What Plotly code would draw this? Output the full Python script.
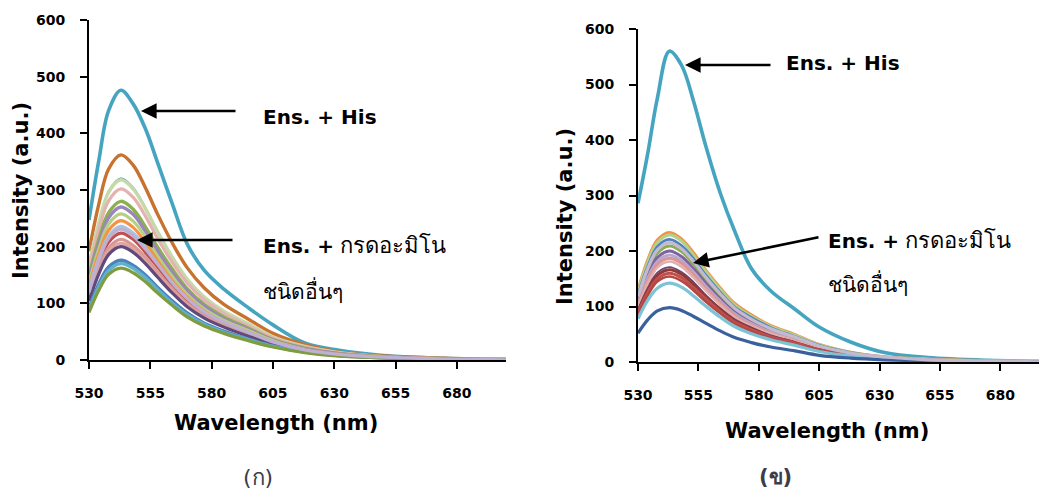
import plotly.graph_objects as go

# ---------------- data ----------------
wavelength = [530, 534, 538, 543, 548, 553, 558, 564, 570, 577, 585, 595, 605, 618, 632, 650, 675, 700]

# Panel (ก)
a_his = [247, 352, 440, 476, 452, 408, 348, 275, 205, 158, 125, 92, 62, 30, 17, 8, 3, 1]
a_orange = [192, 275, 337, 362, 344, 304, 257, 206, 163, 127, 98, 72, 47, 27, 14, 7, 3, 1]
a_teal_thin = [170, 244, 299, 321, 305, 270, 228, 183, 144, 112, 87, 64, 42, 24, 13, 6, 2, 1]
a_sage = [169, 242, 296, 318, 302, 267, 226, 181, 143, 111, 86, 64, 41, 24, 13, 6, 2, 1]
a_pink = [160, 230, 281, 302, 287, 254, 214, 172, 136, 106, 82, 60, 39, 23, 12, 6, 2, 1]
a_green = [148, 213, 260, 280, 266, 235, 199, 160, 126, 98, 76, 56, 36, 21, 11, 6, 2, 1]
a_purple = [143, 205, 251, 270, 257, 227, 192, 154, 122, 95, 73, 54, 35, 20, 11, 5, 2, 1]
a_lightgreen = [137, 196, 240, 258, 245, 217, 183, 147, 116, 90, 70, 52, 34, 19, 10, 5, 2, 1]
a_lightorange = [130, 187, 229, 246, 234, 207, 175, 140, 111, 86, 66, 49, 32, 18, 10, 5, 2, 0]
a_lightblue = [125, 179, 219, 236, 224, 198, 168, 135, 106, 83, 64, 47, 31, 18, 9, 5, 2, 0]
a_red = [116, 170, 208, 224, 213, 190, 164, 132, 105, 83, 65, 47, 31, 18, 10, 5, 2, 0]
a_rose = [111, 162, 198, 213, 202, 181, 155, 126, 100, 79, 62, 45, 30, 17, 10, 5, 2, 0]
a_salmon = [107, 157, 192, 206, 196, 175, 150, 122, 97, 76, 60, 43, 29, 16, 9, 5, 2, 0]
a_darkpurple = [104, 152, 186, 200, 190, 170, 146, 118, 94, 74, 58, 42, 28, 16, 9, 4, 2, 0]
a_blue = [92, 134, 164, 176, 167, 150, 128, 104, 83, 65, 51, 37, 25, 14, 8, 4, 1, 0]
a_cyan = [88, 129, 158, 170, 162, 145, 124, 100, 80, 63, 49, 36, 24, 14, 8, 4, 1, 0]
a_olive = [84, 123, 151, 162, 154, 138, 118, 96, 76, 60, 47, 34, 23, 13, 7, 4, 1, 0]
a_lavender = [120, 176, 215, 231, 219, 196, 169, 136, 109, 85, 67, 49, 32, 18, 10, 5, 2, 0]

# Panel (ข)
b_his = [286, 375, 475, 560, 535, 470, 390, 305, 236, 168, 128, 95, 63, 36, 17, 8, 3, 1]
b_orange = [128, 182, 219, 233, 221, 196, 165, 133, 105, 84, 65, 49, 31, 17, 9, 5, 2, 0]
b_lightgreen = [126, 179, 215, 229, 218, 192, 163, 131, 103, 82, 64, 48, 31, 17, 9, 5, 2, 0]
b_blue = [122, 172, 208, 221, 210, 186, 157, 126, 99, 80, 62, 46, 30, 17, 9, 4, 2, 0]
b_green = [115, 163, 196, 209, 199, 176, 148, 119, 94, 75, 59, 44, 28, 16, 8, 4, 1, 0]
b_purple = [110, 156, 188, 200, 190, 168, 142, 114, 90, 72, 56, 42, 27, 15, 8, 4, 1, 0]
b_lavender2 = [106, 151, 181, 193, 183, 162, 137, 110, 87, 69, 54, 41, 26, 14, 8, 4, 1, 0]
b_pink = [103, 146, 176, 187, 178, 157, 133, 107, 84, 67, 52, 39, 25, 14, 7, 4, 1, 0]
b_rose = [100, 141, 170, 181, 172, 152, 129, 103, 81, 65, 51, 38, 24, 14, 7, 4, 1, 0]
b_darkpurple = [94, 133, 161, 171, 162, 144, 121, 97, 77, 62, 48, 36, 23, 13, 7, 3, 1, 0]
b_darkred = [91, 129, 156, 166, 158, 139, 118, 95, 75, 60, 46, 35, 22, 12, 7, 3, 1, 0]
b_red = [88, 125, 150, 160, 152, 134, 114, 91, 72, 58, 45, 34, 22, 12, 6, 3, 1, 0]
b_red2 = [85, 120, 145, 154, 146, 129, 109, 88, 69, 55, 43, 32, 21, 12, 6, 3, 1, 0]
b_lightblue = [78, 111, 133, 142, 135, 119, 101, 81, 64, 51, 40, 30, 19, 11, 6, 3, 1, 0]
b_navy = [52, 76, 92, 98, 93, 82, 70, 56, 44, 35, 27, 20, 12, 7, 4, 2, 1, 0]
b_lavender = [118, 168, 202, 215, 204, 181, 153, 123, 97, 77, 60, 45, 29, 16, 9, 4, 2, 0]

x_ticks = [530, 555, 580, 605, 630, 655, 680]
y_ticks = [0, 100, 200, 300, 400, 500, 600]

label_his = "<b>Ens. + His</b>"
label_other_1 = "<b>Ens. +</b> <span style=\"font-size:22px\">กรดอะมิโน</span>"
label_other_2 = "ชนิดอื่นๆ"
x_title = "<b>Wavelength (nm)</b>"
y_title = "<b>Intensity (a.u.)</b>"
cap_a = "(ก)"
cap_b = "<b>(ข)</b>"

# ---------------- figure ----------------
FONT = "DejaVu Sans, Tahoma, Noto Sans, sans-serif"
W, H = 1039, 489

left_series = [
    (a_his, "#45A5C1", 3.6),
    (a_orange, "#C8722F", 3.4),
    (a_teal_thin, "#31859C", 1.2),
    (a_sage, "#C6D9A8", 3.4),
    (a_pink, "#E3B2B1", 3.2),
    (a_green, "#8DB04E", 3.4),
    (a_purple, "#9A86B8", 3.4),
    (a_lightgreen, "#B5CF84", 3.2),
    (a_lightorange, "#F59342", 3.2),
    (a_lightblue, "#A9C2E0", 3.2),
    (a_red, "#C0504D", 3.2),
    (a_rose, "#D99694", 3.2),
    (a_salmon, "#E0A4A2", 2.8),
    (a_darkpurple, "#604A7B", 3.2),
    (a_blue, "#4F81BD", 3.4),
    (a_cyan, "#5EB2CB", 3.4),
    (a_olive, "#7F9C3F", 3.2),
    (a_lavender, "#BDB0D2", 3.4),
]

right_series = [
    (b_his, "#45A5C1", 3.6),
    (b_orange, "#F39241", 3.6),
    (b_lightgreen, "#B6CF8B", 3.2),
    (b_blue, "#4F81BD", 2.6),
    (b_green, "#8AAE4F", 3.0),
    (b_purple, "#7E62A1", 3.0),
    (b_lavender2, "#B7A8CC", 3.0),
    (b_pink, "#D99694", 3.0),
    (b_rose, "#E3AFAE", 2.6),
    (b_darkpurple, "#604A7B", 1.8),
    (b_darkred, "#953735", 3.0),
    (b_red, "#C0504D", 3.0),
    (b_red2, "#B44744", 2.6),
    (b_lightblue, "#7CC3D6", 3.2),
    (b_navy, "#3A619C", 3.2),
    (b_lavender, "#C3BACF", 3.2),
]

fig = go.Figure()
for vals, col, w in left_series:
    fig.add_trace(go.Scatter(x=wavelength, y=vals, mode="lines",
                             line=dict(color=col, width=w, shape="spline"),
                             xaxis="x", yaxis="y", showlegend=False, hoverinfo="skip"))
for vals, col, w in right_series:
    fig.add_trace(go.Scatter(x=wavelength, y=vals, mode="lines",
                             line=dict(color=col, width=w, shape="spline"),
                             xaxis="x2", yaxis="y2", showlegend=False, hoverinfo="skip"))

axis_common = dict(showline=True, linecolor="black", linewidth=2, ticks="outside",
                   ticklen=7, tickwidth=2, tickcolor="black", showgrid=False,
                   zeroline=False, automargin=False,
                   tickfont=dict(family=FONT, size=14, color="black", weight="bold"))

fig.update_layout(
    template="none",
    width=W, height=H, margin=dict(l=0, r=0, t=0, b=0, pad=0), autosize=False,
    paper_bgcolor="white", plot_bgcolor="white", showlegend=False,
    xaxis=dict(domain=[89 / W, 506 / W], range=[530, 700], tickvals=x_ticks,
               anchor="y", ticklabelstandoff=12, **axis_common),
    yaxis=dict(domain=[1 - 360 / H, 1 - 20 / H], range=[0, 600], tickvals=y_ticks,
               anchor="x", ticklabelstandoff=12, **axis_common),
    xaxis2=dict(domain=[638 / W, 1.0], range=[530, 696], tickvals=x_ticks,
                anchor="y2", ticklabelstandoff=12, **axis_common),
    yaxis2=dict(domain=[1 - 362 / H, 1 - 29 / H], range=[0, 600], tickvals=y_ticks,
                anchor="x2", ticklabelstandoff=12, **axis_common),
)


def px(x):
    return x / W


def py(y):
    return 1 - y / H


ann = []


def text(t, x, y, size, xanchor="left", angle=0, color="black"):
    ann.append(dict(text=t, x=px(x), y=py(y), xref="paper", yref="paper",
                    xanchor=xanchor, yanchor="middle", showarrow=False, borderpad=0,
                    textangle=angle, font=dict(family=FONT, size=size, color=color)))


def arrow(hx, hy, tx, ty):
    ann.append(dict(text="", x=px(hx), y=py(hy), xref="paper", yref="paper",
                    ax=tx - hx, ay=ty - hy, axref="pixel", ayref="pixel",
                    showarrow=True, arrowhead=2, arrowsize=1.2, arrowwidth=2.6,
                    arrowcolor="black", standoff=0))


# panel (ก)
text(label_his, 262, 117, 20)
text(label_other_1, 262, 245, 20)
text(label_other_2, 262, 290, 21)
arrow(141, 111, 237, 111)
arrow(137, 240, 234, 240)
text(x_title, 276, 423, 21, xanchor="center")
text(y_title, 21, 191, 21, xanchor="center", angle=-90)
text(cap_a, 258, 477, 22, xanchor="center", color="#3C3C4A")

# panel (ข)
text(label_his, 785, 63, 20)
text(label_other_1, 827, 240, 20)
text(label_other_2, 827, 283, 21)
arrow(685, 65, 772, 65)
arrow(693, 263, 820, 237)
text(x_title, 827, 431, 21, xanchor="center")
text(y_title, 565, 217, 21, xanchor="center", angle=-90)
text(cap_b, 775, 477, 21, xanchor="center", color="#3C3C4A")

fig.update_layout(annotations=ann)

fig.write_html("out.html")
